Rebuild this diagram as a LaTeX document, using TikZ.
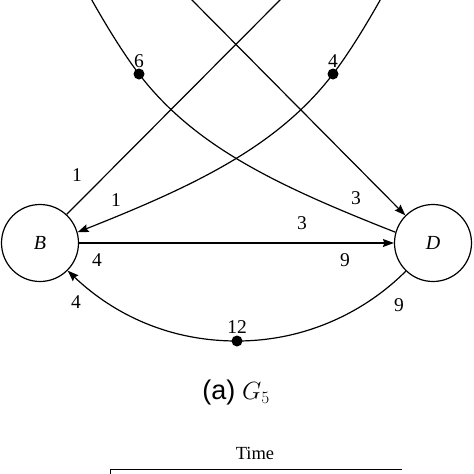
\documentclass[tikz,border=0pt]{standalone}
\usepackage{fontspec}
\setmainfont{Liberation Serif}
\newfontfamily\capfont{Liberation Sans}
\usetikzlibrary{arrows.meta}
\begin{document}
\begin{tikzpicture}[x=1pt,y=-1pt,
  edge/.style={line width=1.2pt},
  arr/.style={edge,-{Stealth[length=11pt,width=8pt,inset=1.5pt]}},
  vert/.style={circle,draw,line width=1.2pt,minimum size=77pt,inner sep=0pt,font=\fontsize{20}{22}\selectfont\itshape},
  lbl/.style={font=\fontsize{19.5}{22}\selectfont,inner sep=0pt},
  dotnode/.style={circle,fill,minimum size=11pt,inner sep=0pt}]
\useasboundingbox (0,0) rectangle (474,474);
\clip (0,0) rectangle (474,474);
\node[vert] (B) at (40,243) {B};
\node[vert] (D) at (433,243) {D};
\coordinate (t1) at (285,-5);
\coordinate (t2) at (187,-5);
\coordinate (tL) at (89,-5);
\coordinate (tR) at (383,-5);
\node[dotnode] (d6) at (139,74) {};
\node[dotnode] (d4) at (333,74) {};
\node[dotnode] (d12) at (237,341) {};
\draw[edge] (B.47) -- (t1);
\draw[arr] (t2) -- (D.135);
\draw[edge] (tL) .. controls (106,25.5) and (124,54.5) .. (d6.center) .. controls (194.8,146.9) and (278,186) .. (D.164);
\draw[arr] (tR) .. controls (366,25.5) and (348,54.5) .. (d4.center) .. controls (277.2,146.9) and (194,186) .. (B.16);
\draw[arr] (B) -- (D);
\draw[arr] (D.226) .. controls (366,311) and (307,341) .. (d12.center) .. controls (162,341) and (108,309) .. (B.315);
\node[lbl] (l6) at (139,61) {6};
\node[lbl] (l4a) at (333,61) {4};
\node[lbl] (l1a) at (77,175) {1};
\node[lbl] (l1b) at (116,200) {1};
\node[lbl] (l3a) at (356,198) {3};
\node[lbl] (l3b) at (302,223) {3};
\node[lbl] (l4b) at (97,260) {4};
\node[lbl] (l9a) at (345,260) {9};
\node[lbl] (l4c) at (76,302) {4};
\node[lbl] (l9b) at (399,305) {9};
\node[lbl] (l12) at (237,327) {12};
\node[font=\fontsize{27}{30}\selectfont,inner sep=0pt] (cap) at (236,393) {{\capfont (a)} $G_5$};
\node[font=\fontsize{18.5}{21}\selectfont,inner sep=0pt] (time) at (255,453) {Time};
\coordinate (bx1) at (110,480);
\coordinate (bx2) at (110,469);
\coordinate (bx3) at (402,469);
\draw[line width=1pt] (bx1) -- (bx2) -- (bx3);
\end{tikzpicture}
\end{document}
